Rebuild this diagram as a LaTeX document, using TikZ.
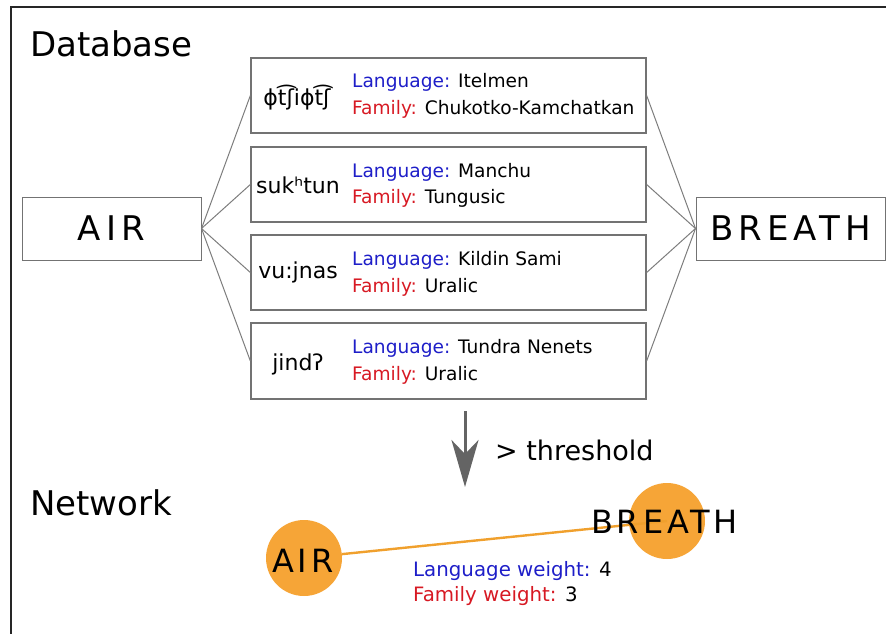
\documentclass[tikz,border=0pt]{standalone}
\usepackage{fontspec}
\setmainfont{DejaVu Sans}
\newfontfamily\spacedfont[LetterSpace=15]{DejaVu Sans}
\newfontfamily\netfont[LetterSpace=12]{DejaVu Sans}
\usetikzlibrary{arrows.meta}
\definecolor{langblue}{RGB}{30,30,200}
\definecolor{famred}{RGB}{215,25,35}
\definecolor{nodeorange}{RGB}{246,165,55}
\definecolor{edgeorange}{RGB}{240,160,45}
\definecolor{boxgray}{RGB}{115,115,115}
\definecolor{linkgray}{RGB}{125,125,125}
\definecolor{arrowgray}{RGB}{100,100,100}
\begin{document}
\begin{tikzpicture}[x=1pt,y=-1pt,
  entry/.style={draw=boxgray, line width=1.3pt, minimum width=395pt, minimum height=75pt, inner sep=0pt},
  concept/.style={draw=boxgray, line width=1pt, minimum height=63pt, inner sep=0pt, font=\spacedfont\fontsize{34}{40}\selectfont},
  link/.style={draw=linkgray, line width=1pt},
  heading/.style={inner sep=0pt, anchor=base west, font=\fontsize{34}{40}\selectfont},
  ipa/.style={inner sep=0pt, anchor=base, font=\fontsize{22}{26}\selectfont},
  info/.style={inner sep=0pt, anchor=base west, font=\fontsize{18.6}{22}\selectfont},
  weight/.style={inner sep=0pt, anchor=base west, font=\fontsize{19.8}{24}\selectfont},
  circ/.style={circle, fill=nodeorange, minimum size=76pt, inner sep=0pt},
  netlabel/.style={inner sep=0pt, anchor=base west, font=\netfont\fontsize{32}{38}\selectfont},
  edge/.style={draw=edgeorange, line width=2.4pt},
  bigarrow/.style={draw=arrowgray, line width=3pt, -{Stealth[length=47pt, width=27pt, inset=14pt]}},
  frame/.style={draw=black!85, line width=2pt}
]
\useasboundingbox (0,0) rectangle (886,634);
\draw[frame] (11,634) -- (11,7) -- (886,7);

% Database
\node[heading] (db) at (30,57) {Database};
\node[concept, minimum width=179pt] (air) at (111.5,228.5) {AIR};
\node[concept, minimum width=189pt] (breath) at (790.5,228.5) {BREATH};

\node[entry] (b1) at (448.5,95.5) {};
\node[entry] (b2) at (448.5,184.5) {};
\node[entry] (b3) at (448.5,272.5) {};
\node[entry, minimum height=76pt] (b4) at (448.5,361) {};

\node[ipa] (w1) at (297,105) {ɸt͡ʃiɸt͡ʃ};
\node[ipa] (w2) at (298,193) {sukʰtun};
\node[ipa] (w3) at (298,278) {vu:jnas};
\node[ipa] (w4) at (298,370) {jindʔ};

\node[info] (l1) at (352,87) {\textcolor{langblue}{Language:} Itelmen};
\node[info] (f1) at (352,114) {\textcolor{famred}{Family:} Chukotko-Kamchatkan};
\node[info] (l2) at (352,177) {\textcolor{langblue}{Language:} Manchu};
\node[info] (f2) at (352,203) {\textcolor{famred}{Family:} Tungusic};
\node[info] (l3) at (352,265) {\textcolor{langblue}{Language:} Kildin Sami};
\node[info] (f3) at (352,292) {\textcolor{famred}{Family:} Uralic};
\node[info] (l4) at (352,353) {\textcolor{langblue}{Language:} Tundra Nenets};
\node[info] (f4) at (352,380) {\textcolor{famred}{Family:} Uralic};

\foreach \b in {b1,b2,b3,b4}{
  \draw[link] (air.east) -- (\b.west);
  \draw[link] (\b.east) -- (breath.west);
}

% threshold arrow
\coordinate (astart) at (465,411);
\coordinate (aend) at (465,487);
\draw[bigarrow] (astart) -- (aend);
\node[inner sep=0pt, anchor=base west, font=\fontsize{27}{32}\selectfont] (thr) at (495,460) {> threshold};

% Network
\node[heading] (net) at (30,515) {Network};
\node[circ] (nair) at (304,558) {};
\node[circ] (nbreath) at (667,521) {};
\draw[edge] (nair) -- (nbreath.center);
\node[netlabel] (tair) at (272,572) {AIR};
\node[netlabel] (tbreath) at (591,533) {BREATH};
\node[weight] (lw) at (413,576) {\textcolor{langblue}{Language weight:} 4};
\node[weight] (fw) at (413,601) {\textcolor{famred}{Family weight:} 3};
\end{tikzpicture}
\end{document}
